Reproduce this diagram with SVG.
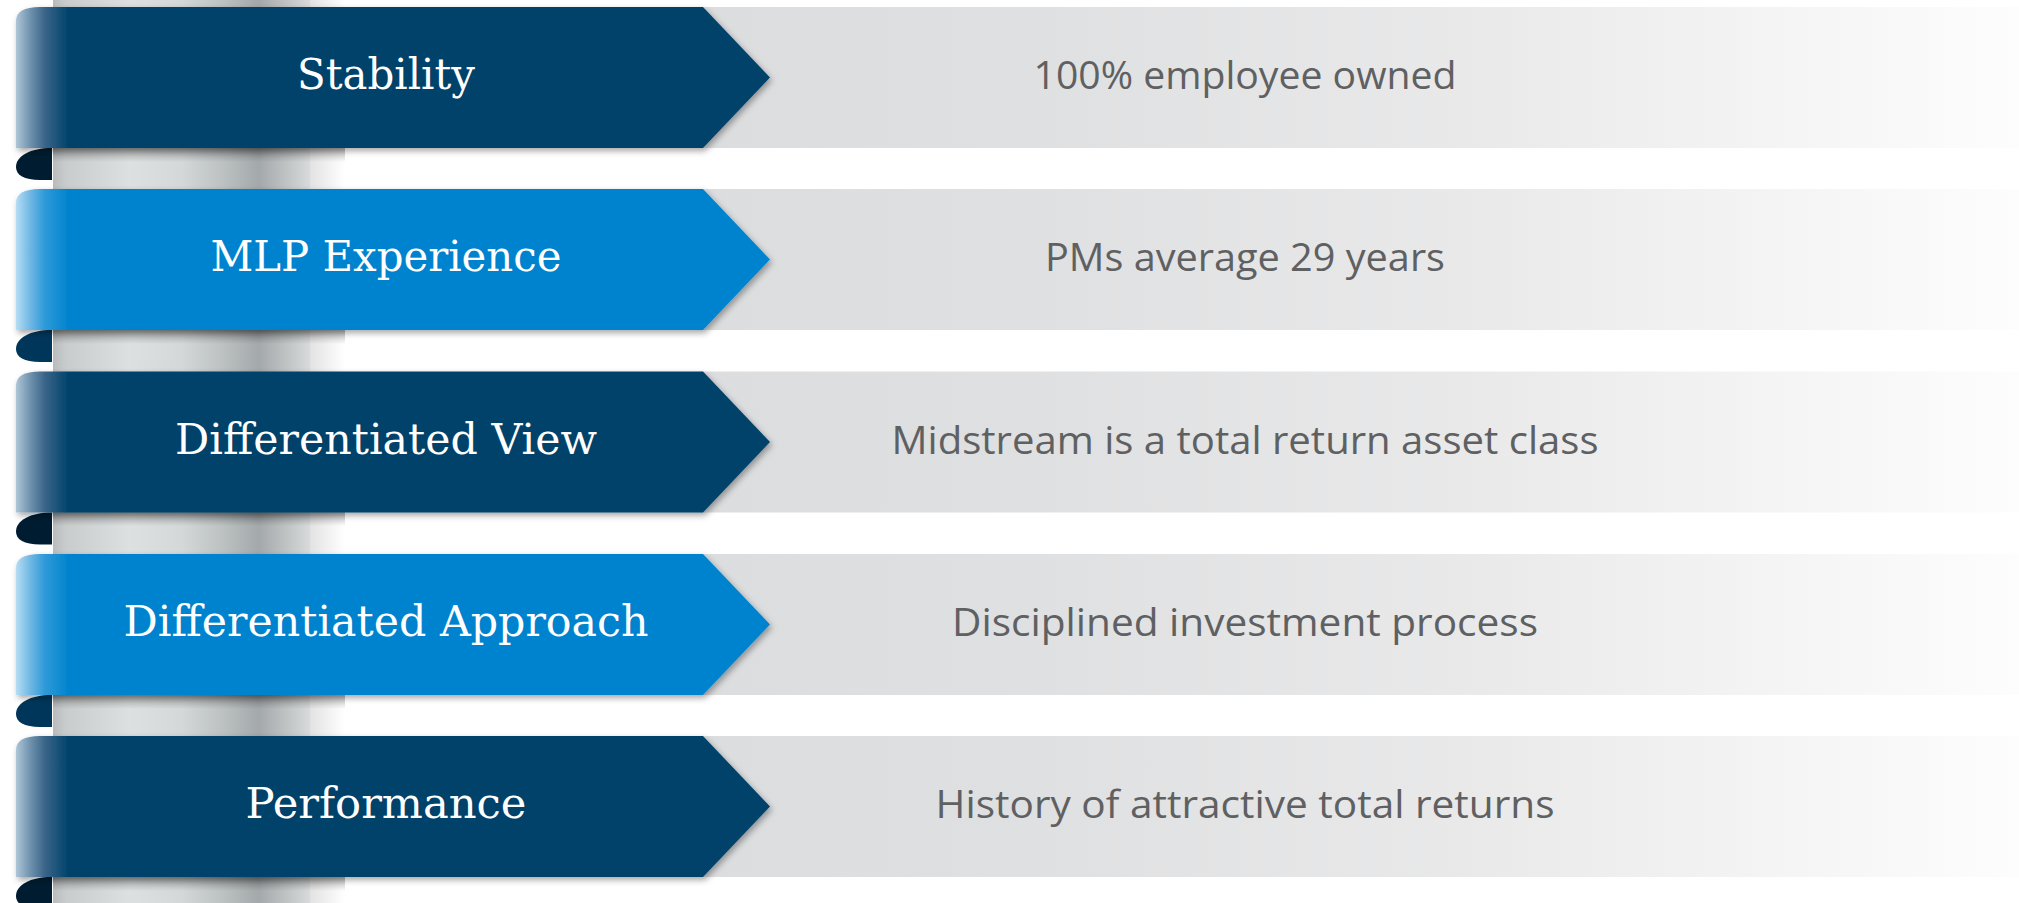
<svg xmlns="http://www.w3.org/2000/svg" width="2019" height="903" viewBox="0 0 2019 903">
  <defs>
    <linearGradient id="pillar" x1="53" y1="0" x2="310" y2="0" gradientUnits="userSpaceOnUse">
      <stop offset="0" stop-color="#b9bcbd"/>
      <stop offset="0.05" stop-color="#c9cccc"/>
      <stop offset="0.3" stop-color="#dde0e0"/>
      <stop offset="0.5" stop-color="#d4d8d8"/>
      <stop offset="0.66" stop-color="#bcc1c2"/>
      <stop offset="0.8" stop-color="#a3a8aa"/>
      <stop offset="0.92" stop-color="#c2c6c7"/>
      <stop offset="1" stop-color="#d8dadb"/>
    </linearGradient>
    <linearGradient id="pillarShade" x1="310" y1="0" x2="345" y2="0" gradientUnits="userSpaceOnUse">
      <stop offset="0" stop-color="#e2e2e2"/>
      <stop offset="1" stop-color="#ffffff"/>
    </linearGradient>
    <linearGradient id="gapShade" x1="0" y1="0" x2="0" y2="1">
      <stop offset="0" stop-color="#000" stop-opacity="0.3"/>
      <stop offset="1" stop-color="#000" stop-opacity="0"/>
    </linearGradient>
    <linearGradient id="band" x1="700" y1="0" x2="2019" y2="0" gradientUnits="userSpaceOnUse">
      <stop offset="0" stop-color="#dcdddf"/>
      <stop offset="0.25" stop-color="#dfe0e1"/>
      <stop offset="0.58" stop-color="#e9e9ea"/>
      <stop offset="0.77" stop-color="#f2f2f2"/>
      <stop offset="1" stop-color="#fdfdfd"/>
    </linearGradient>
    <linearGradient id="navy" x1="0" y1="0" x2="1" y2="0">
      <stop offset="0" stop-color="#aec6d7"/>
      <stop offset="0.019" stop-color="#6f92ae"/>
      <stop offset="0.038" stop-color="#3a6588"/>
      <stop offset="0.07" stop-color="#00426b"/>
      <stop offset="1" stop-color="#00426b"/>
    </linearGradient>
    <linearGradient id="blue" x1="0" y1="0" x2="1" y2="0">
      <stop offset="0" stop-color="#b6ddf4"/>
      <stop offset="0.019" stop-color="#6fb7e3"/>
      <stop offset="0.038" stop-color="#2f9ad8"/>
      <stop offset="0.07" stop-color="#0083ce"/>
      <stop offset="1" stop-color="#0083ce"/>
    </linearGradient>
    <filter id="shadow" x="-5%" y="-10%" width="115%" height="130%">
      <feDropShadow dx="2" dy="3" stdDeviation="3" flood-color="#000" flood-opacity="0.35"/>
    </filter>
    <style>
      .band { fill: url(#band); }
      .navy { fill: url(#navy); filter: url(#shadow); }
      .blue { fill: url(#blue); filter: url(#shadow); }
      .curlNavy { fill: #001c30; }
      .curlBlue { fill: #00365a; }
      .gap { fill: url(#gapShade); }
      .label { font-family: "DejaVu Serif", "Liberation Serif", serif; font-size: 42px; fill: #ffffff; text-anchor: middle; }
      .desc { font-family: "Open Sans", "Liberation Sans", sans-serif; font-size: 39px; fill: #5f6062; text-anchor: middle; }
    </style>
  </defs>

  <rect width="2019" height="903" fill="#ffffff"/>

  <g id="pillar-col">
    <rect x="53" y="0" width="257" height="903" fill="url(#pillar)"/>
    <rect x="310" y="0" width="35" height="903" fill="url(#pillarShade)"/>
    <rect class="gap" x="53" y="148" width="292" height="14"/>
    <rect class="gap" x="53" y="330" width="292" height="14"/>
    <rect class="gap" x="53" y="512" width="292" height="14"/>
    <rect class="gap" x="53" y="695" width="292" height="14"/>
    <rect class="gap" x="53" y="877" width="292" height="14"/>
  </g>

  <g id="row1">
    <rect class="band" x="700" y="7" width="1319" height="141"/>
    <path class="curlNavy" d="M52,148 C30,148 16,156 16,167 C16,175 24,180 40,180 L52,180 Z"/>
    <path class="navy" d="M16,21 Q16,7 40,7 L703,7 L770,77.5 L703,148 L16,148 Z"/>
    <text class="label" x="386" y="89" textLength="178" lengthAdjust="spacingAndGlyphs">Stability</text>
    <text class="desc" x="1245" y="89" textLength="423" lengthAdjust="spacingAndGlyphs">100% employee owned</text>
  </g>

  <g id="row2">
    <rect class="band" x="700" y="189" width="1319" height="141"/>
    <path class="curlBlue" d="M52,330 C30,330 16,338 16,349 C16,357 24,362 40,362 L52,362 Z"/>
    <path class="blue" d="M16,203 Q16,189 40,189 L703,189 L770,259.5 L703,330 L16,330 Z"/>
    <text class="label" x="386" y="271" textLength="351" lengthAdjust="spacingAndGlyphs">MLP Experience</text>
    <text class="desc" x="1245" y="271" textLength="400" lengthAdjust="spacingAndGlyphs">PMs average 29 years</text>
  </g>

  <g id="row3">
    <rect class="band" x="700" y="371.5" width="1319" height="141"/>
    <path class="curlNavy" d="M52,512.5 C30,512.5 16,520.5 16,531.5 C16,539.5 24,544.5 40,544.5 L52,544.5 Z"/>
    <path class="navy" d="M16,385.5 Q16,371.5 40,371.5 L703,371.5 L770,442 L703,512.5 L16,512.5 Z"/>
    <text class="label" x="386" y="453.5" textLength="422" lengthAdjust="spacingAndGlyphs">Differentiated View</text>
    <text class="desc" x="1245" y="453.5" textLength="707" lengthAdjust="spacingAndGlyphs">Midstream is a total return asset class</text>
  </g>

  <g id="row4">
    <rect class="band" x="700" y="554" width="1319" height="141"/>
    <path class="curlBlue" d="M52,695 C30,695 16,703 16,714 C16,722 24,727 40,727 L52,727 Z"/>
    <path class="blue" d="M16,568 Q16,554 40,554 L703,554 L770,624.5 L703,695 L16,695 Z"/>
    <text class="label" x="386" y="636" textLength="525" lengthAdjust="spacingAndGlyphs">Differentiated Approach</text>
    <text class="desc" x="1245" y="636" textLength="586" lengthAdjust="spacingAndGlyphs">Disciplined investment process</text>
  </g>

  <g id="row5">
    <rect class="band" x="700" y="736" width="1319" height="141"/>
    <path class="curlNavy" d="M52,877 C30,877 16,885 16,896 C16,904 24,909 40,909 L52,909 Z"/>
    <path class="navy" d="M16,750 Q16,736 40,736 L703,736 L770,806.5 L703,877 L16,877 Z"/>
    <text class="label" x="386" y="818" textLength="281" lengthAdjust="spacingAndGlyphs">Performance</text>
    <text class="desc" x="1245" y="818" textLength="619" lengthAdjust="spacingAndGlyphs">History of attractive total returns</text>
  </g>

  <g id="connectors"></g>
</svg>
